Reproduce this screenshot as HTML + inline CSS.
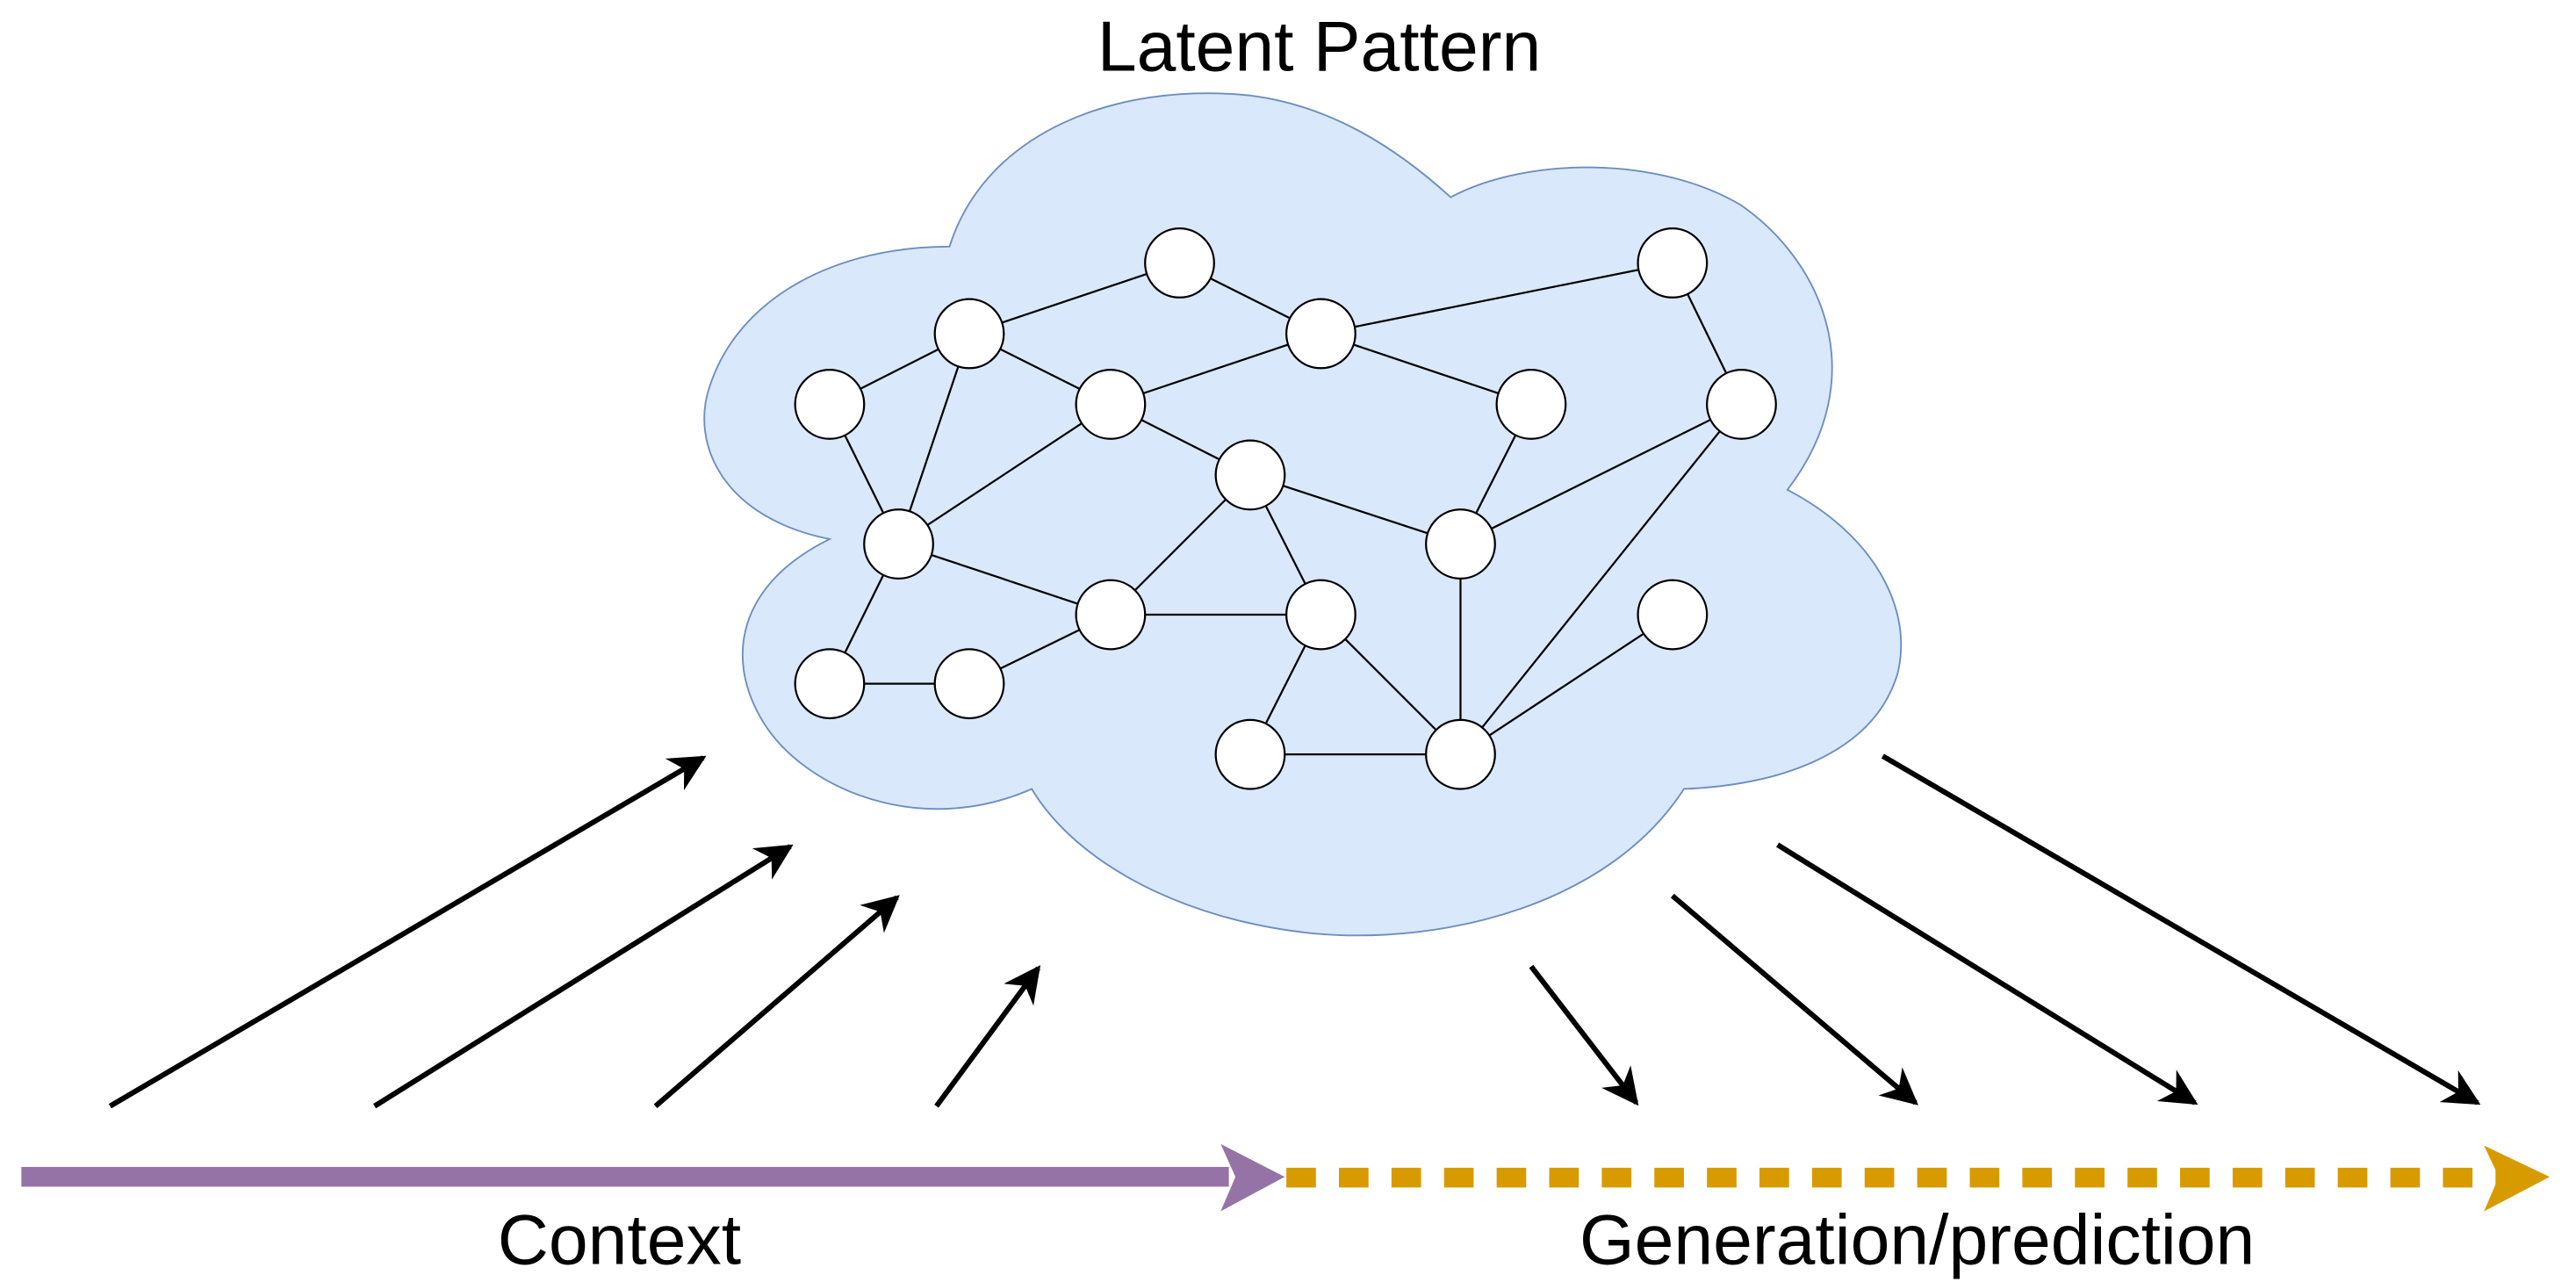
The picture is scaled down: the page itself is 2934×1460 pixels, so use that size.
<!DOCTYPE html>
<html><head><meta charset="utf-8"><style>
html,body{margin:0;padding:0;background:#fff;}
svg{display:block;}
text{font-family:"Liberation Sans",sans-serif;font-size:43px;fill:#000;}
</style></head><body>
<svg width="2934" height="1460" viewBox="0 0 1568 780" preserveAspectRatio="none" xmlns="http://www.w3.org/2000/svg">
<defs>
<marker id="ah" viewBox="0 0 10 10" refX="9" refY="5" markerWidth="7" markerHeight="7" orient="auto" markerUnits="strokeWidth">
<path d="M0,0 L10,5 L0,10 L3,5 Z" fill="#000"/>
</marker>
</defs>
<text x="803" y="43" text-anchor="middle">Latent Pattern</text>
<path d="M578,150 C600,80 680,50 760,58 C810,64 850,90 883,120 C930,95 1010,95 1060,125 C1110,160 1140,230 1088,298 C1140,325 1165,370 1155,410 C1140,460 1080,478 1025,480 C980,550 880,575 800,568 C720,560 655,525 628,480 C560,510 490,480 465,440 C440,400 450,355 505,328 C440,315 420,270 432,235 C450,180 510,150 578,150 Z" fill="#dae8fc" stroke="#6c8ebf" stroke-width="1"/>
<g stroke="#000" stroke-width="1.2">
<line x1="590" y1="203" x2="718" y2="160"/>
<line x1="718" y1="160" x2="804" y2="203"/>
<line x1="804" y1="203" x2="1018" y2="160"/>
<line x1="1018" y1="160" x2="1060" y2="246"/>
<line x1="505" y1="246" x2="590" y2="203"/>
<line x1="590" y1="203" x2="676" y2="246"/>
<line x1="676" y1="246" x2="804" y2="203"/>
<line x1="804" y1="203" x2="932" y2="246"/>
<line x1="590" y1="203" x2="547" y2="331"/>
<line x1="505" y1="246" x2="547" y2="331"/>
<line x1="676" y1="246" x2="547" y2="331"/>
<line x1="676" y1="246" x2="761" y2="289"/>
<line x1="761" y1="289" x2="889" y2="331"/>
<line x1="932" y1="246" x2="889" y2="331"/>
<line x1="889" y1="331" x2="1060" y2="246"/>
<line x1="547" y1="331" x2="676" y2="374"/>
<line x1="547" y1="331" x2="505" y2="416"/>
<line x1="505" y1="416" x2="590" y2="416"/>
<line x1="590" y1="416" x2="676" y2="374"/>
<line x1="676" y1="374" x2="761" y2="289"/>
<line x1="676" y1="374" x2="804" y2="374"/>
<line x1="761" y1="289" x2="804" y2="374"/>
<line x1="804" y1="374" x2="761" y2="459"/>
<line x1="804" y1="374" x2="889" y2="459"/>
<line x1="761" y1="459" x2="889" y2="459"/>
<line x1="889" y1="331" x2="889" y2="459"/>
<line x1="1060" y1="246" x2="889" y2="459"/>
<line x1="889" y1="459" x2="1018" y2="374"/>
</g>
<g fill="#fff" stroke="#000" stroke-width="1.2">
<circle cx="718" cy="160" r="21"/><circle cx="590" cy="203" r="21"/><circle cx="804" cy="203" r="21"/>
<circle cx="1018" cy="160" r="21"/><circle cx="505" cy="246" r="21"/><circle cx="676" cy="246" r="21"/>
<circle cx="932" cy="246" r="21"/><circle cx="1060" cy="246" r="21"/><circle cx="761" cy="289" r="21"/>
<circle cx="547" cy="331" r="21"/><circle cx="889" cy="331" r="21"/><circle cx="676" cy="374" r="21"/>
<circle cx="804" cy="374" r="21"/><circle cx="1018" cy="374" r="21"/><circle cx="505" cy="416" r="21"/>
<circle cx="590" cy="416" r="21"/><circle cx="761" cy="459" r="21"/><circle cx="889" cy="459" r="21"/>
</g>
<g stroke="#000" stroke-width="3.2" marker-end="url(#ah)">
<line x1="67" y1="673" x2="428" y2="461"/>
<line x1="228" y1="673" x2="481" y2="515"/>
<line x1="399" y1="673" x2="546" y2="546"/>
<line x1="570" y1="673" x2="632" y2="589"/>
<line x1="932" y1="588" x2="996" y2="671"/>
<line x1="1018" y1="545" x2="1166" y2="671"/>
<line x1="1082" y1="514" x2="1336" y2="671"/>
<line x1="1146" y1="460" x2="1508" y2="671"/>
</g>
<rect x="13" y="710" width="735" height="12" fill="#9673a6"/>
<path d="M743,696 L782,716 L743,737 L752,716 Z" fill="#9673a6"/>
<line x1="783" y1="716.5" x2="1522" y2="716.5" stroke="#d79b00" stroke-width="12" stroke-dasharray="18,14"/>
<path d="M1512,697 L1552,716 L1512,737 L1521,716 Z" fill="#d79b00"/>
<text x="377" y="769" text-anchor="middle">Context</text>
<text x="1167" y="769" text-anchor="middle">Generation/prediction</text>
</svg>
</body></html>
